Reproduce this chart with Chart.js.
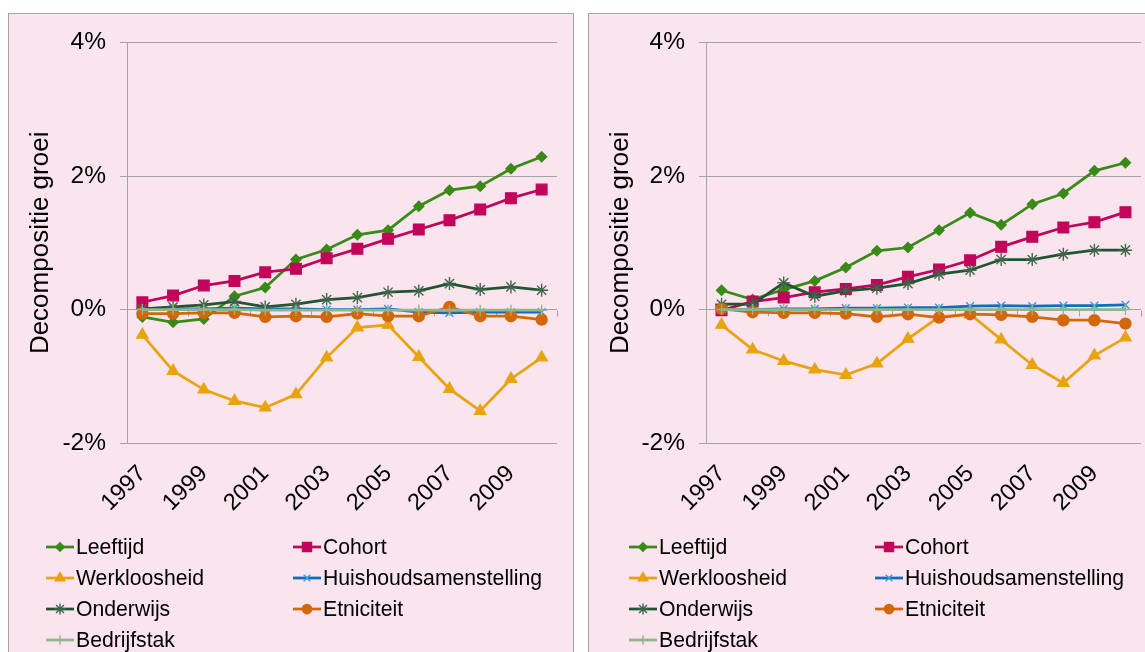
<!DOCTYPE html>
<html>
<head>
<meta charset="utf-8">
<script src="https://cdn.jsdelivr.net/npm/chart.js@4.4.0/dist/chart.umd.min.js"></script>
<style>
  body { margin: 0; background: #fff; width: 1145px; height: 652px; overflow: hidden; position: relative;
         font-family: "Liberation Sans", Arial, sans-serif; }
  .panel { position: absolute; top: 13px; height: 660px; background: #fae4ee; border: 1px solid #a3a3a3; box-sizing: border-box; }
  #p1 { left: 8px; width: 566px; }
  #p2 { left: 588px; width: 580px; }
  .panel canvas.chart { position: absolute; left: 0; top: 0; }
  .item { position: absolute; height: 30px; display: flex; align-items: center; font-size: 21.2px; color: #000; white-space: nowrap; }
  .item canvas { margin-right: 2px; }
</style>
</head>
<body>
<div class="panel" id="p1"><canvas class="chart" id="chartLeft" width="564" height="640"></canvas><div id="legendLeft"></div></div>
<div class="panel" id="p2"><canvas class="chart" id="chartRight" width="578" height="640"></canvas><div id="legendRight"></div></div>
<script>
// categories and tick labels
const years = ['1997','1998','1999','2000','2001','2002','2003','2004','2005','2006','2007','2008','2009','2010'];
const yTicks = [-2, 0, 2, 4];
const seriesNames = ['Leeftijd', 'Cohort', 'Werkloosheid', 'Huishoudsamenstelling', 'Onderwijs', 'Etniciteit', 'Bedrijfstak'];

// left panel (% growth)
const leftLeeftijd     = [-0.11, -0.19, -0.14, 0.20, 0.33, 0.75, 0.90, 1.12, 1.19, 1.55, 1.79, 1.85, 2.11, 2.29];
const leftCohort       = [0.11, 0.21, 0.36, 0.43, 0.56, 0.61, 0.77, 0.91, 1.06, 1.20, 1.34, 1.50, 1.67, 1.80];
const leftWerkloosheid = [-0.38, -0.92, -1.20, -1.37, -1.47, -1.27, -0.72, -0.27, -0.23, -0.71, -1.19, -1.52, -1.04, -0.72];
const leftHuishouden   = [0.00, 0.01, 0.01, 0.02, 0.01, 0.01, 0.00, 0.00, 0.01, -0.04, -0.05, -0.04, -0.04, -0.04];
const leftOnderwijs    = [0.01, 0.04, 0.07, 0.12, 0.04, 0.08, 0.15, 0.18, 0.26, 0.28, 0.39, 0.30, 0.34, 0.29];
const leftEtniciteit   = [-0.06, -0.06, -0.05, -0.05, -0.11, -0.10, -0.11, -0.06, -0.10, -0.10, 0.04, -0.10, -0.10, -0.15];
const leftBedrijfstak  = [0.00, 0.00, 0.00, 0.00, -0.01, -0.01, -0.01, -0.01, -0.01, -0.01, -0.01, -0.01, -0.01, -0.01];

// right panel (% growth)
const rightLeeftijd     = [0.29, 0.15, 0.30, 0.43, 0.63, 0.88, 0.93, 1.19, 1.45, 1.27, 1.58, 1.74, 2.08, 2.20];
const rightCohort       = [-0.01, 0.12, 0.18, 0.26, 0.31, 0.37, 0.49, 0.60, 0.74, 0.94, 1.09, 1.23, 1.31, 1.46];
const rightWerkloosheid = [-0.23, -0.60, -0.77, -0.90, -0.98, -0.81, -0.44, -0.11, -0.07, -0.45, -0.83, -1.10, -0.69, -0.42];
const rightHuishouden   = [0.00, 0.00, 0.01, 0.01, 0.02, 0.02, 0.03, 0.03, 0.05, 0.06, 0.05, 0.06, 0.06, 0.07];
const rightOnderwijs    = [0.08, 0.08, 0.40, 0.20, 0.28, 0.32, 0.39, 0.53, 0.59, 0.75, 0.75, 0.83, 0.89, 0.89];
const rightEtniciteit   = [0.01, -0.04, -0.05, -0.05, -0.06, -0.11, -0.07, -0.12, -0.07, -0.08, -0.11, -0.16, -0.16, -0.21];
const rightBedrijfstak  = [0.00, 0.00, 0.00, 0.00, 0.00, 0.00, 0.00, 0.00, 0.00, 0.00, 0.00, 0.00, 0.00, 0.00];

const gridColor = '#a3a3a3';
const fontFamily = '"Liberation Sans", Arial, sans-serif';
const styles = [
  { line: '#3a8a18', point: '#3a8a18', shape: 'rectRot', r: 5 },
  { line: '#c2045a', point: '#c2045a', shape: 'rect', r: 7.5 },
  { line: '#e8a30e', point: '#e8a30e', shape: 'triangle', r: 6.5 },
  { line: '#0b6fbd', point: '#3d97dd', shape: 'crossRot', r: 5.5 },
  { line: '#1f5533', point: '#3f6649', shape: 'star', r: 6.5 },
  { line: '#d2680a', point: '#d2680a', shape: 'circle', r: 5.5 },
  { line: '#8fb58c', point: '#8fb58c', shape: 'cross', r: 5.5 }
];

function buildDatasets(values) {
  return values.map((data, i) => ({
    label: seriesNames[i],
    data: data,
    borderColor: styles[i].line,
    backgroundColor: styles[i].point,
    borderWidth: 2.75,
    pointStyle: styles[i].shape,
    pointRadius: styles[i].r,
    pointBorderColor: styles[i].point,
    pointBackgroundColor: styles[i].point,
    pointBorderWidth: 1.4,
    order: values.length - i,
    tension: 0
  }));
}

// small tick marks on the 0% line, every other category boundary
const zeroAxisTicks = {
  id: 'zeroAxisTicks',
  beforeDatasetsDraw(chart) {
    const { ctx, scales: { x, y } } = chart;
    const y0 = Math.round(y.getPixelForValue(0)) + 0.5;
    ctx.save();
    ctx.strokeStyle = gridColor;
    ctx.lineWidth = 1;
    ctx.beginPath();
    for (let i = 1; i < years.length; i += 2) {
      const px = Math.round(x.getPixelForValue(i + 0.5)) + 0.5;
      ctx.moveTo(px, y0);
      ctx.lineTo(px, y0 + 6);
    }
    ctx.stroke();
    ctx.restore();
  }
};

function makeChart(id, values, area) {
  const canvas = document.getElementById(id);
  return new Chart(canvas, {
    type: 'line',
    data: { labels: years, datasets: buildDatasets(values) },
    plugins: [zeroAxisTicks],
    options: {
      responsive: false,
      animation: false,
      devicePixelRatio: 1,
      layout: { padding: { left: 0, top: area.top, right: canvas.width - area.right, bottom: 0 } },
      plugins: { legend: { display: false }, tooltip: { enabled: false } },
      scales: {
        x: {
          offset: true,
          grid: { display: false, drawTicks: false },
          border: { display: false },
          ticks: {
            autoSkip: false, minRotation: 45, maxRotation: 45, padding: 17,
            color: '#000', font: { size: 23.5, family: fontFamily },
            callback: (v, i) => (i % 2 === 0 ? years[i] : '')
          },
          afterFit: (s) => {
            s.height = canvas.height - area.bottom;
            s.paddingLeft = 0;
            s.paddingRight = 0;
          }
        },
        y: {
          min: yTicks[0], max: yTicks[yTicks.length - 1],
          afterBuildTicks: (s) => { s.ticks = yTicks.map(v => ({ value: v })); },
          grid: { color: gridColor, lineWidth: 1, tickLength: 7, tickColor: gridColor },
          border: { display: true, color: gridColor, width: 1 },
          ticks: {
            padding: 14, color: '#000',
            font: { size: 24.5, family: fontFamily },
            callback: (v) => v + '%'
          },
          title: {
            display: true, text: 'Decompositie groei', color: '#000',
            font: { size: 26, family: fontFamily },
            padding: { top: 16, bottom: 0 }
          },
          afterFit: (s) => { s.width = area.left; }
        }
      }
    }
  });
}

function buildLegend(id, xs) {
  const box = document.getElementById(id);
  const rowTop = 518, rowStep = 31;
  seriesNames.forEach((name, i) => {
    const item = document.createElement('div');
    item.className = 'item';
    item.style.left = xs[i % 2] + 'px';
    item.style.top = (rowTop + Math.floor(i / 2) * rowStep) + 'px';
    const c = document.createElement('canvas');
    c.width = 28; c.height = 20;
    const ctx = c.getContext('2d');
    ctx.strokeStyle = styles[i].line;
    ctx.lineWidth = 2.75;
    ctx.beginPath(); ctx.moveTo(0, 10); ctx.lineTo(28, 10); ctx.stroke();
    ctx.fillStyle = styles[i].point;
    ctx.strokeStyle = styles[i].point;
    ctx.lineWidth = 1.4;
    if (Chart.helpers && Chart.helpers.drawPoint) {
      Chart.helpers.drawPoint(ctx, { pointStyle: styles[i].shape, radius: styles[i].r * 0.85, rotation: 0, borderWidth: 1.4 }, 14, 10);
    }
    item.appendChild(c);
    const t = document.createElement('span');
    t.textContent = name;
    item.appendChild(t);
    box.appendChild(item);
  });
}

makeChart('chartLeft',
  [leftLeeftijd, leftCohort, leftWerkloosheid, leftHuishouden, leftOnderwijs, leftEtniciteit, leftBedrijfstak],
  { left: 118, right: 548, top: 19, bottom: 429 });
makeChart('chartRight',
  [rightLeeftijd, rightCohort, rightWerkloosheid, rightHuishouden, rightOnderwijs, rightEtniciteit, rightBedrijfstak],
  { left: 117, right: 552, top: 19, bottom: 429 });
buildLegend('legendLeft', [37, 284]);
buildLegend('legendRight', [40, 286]);
</script>
</body>
</html>
